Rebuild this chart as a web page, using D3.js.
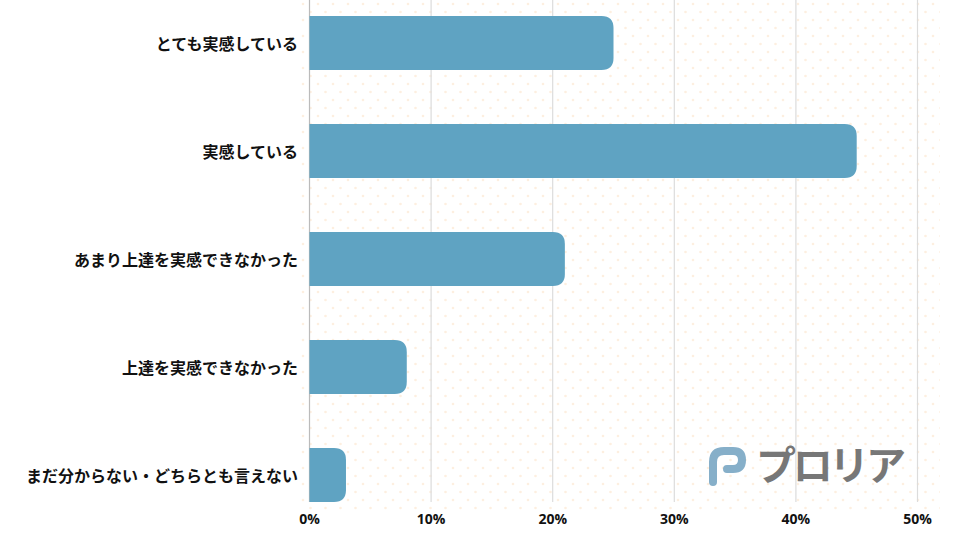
<!DOCTYPE html>
<html><head><meta charset="utf-8">
<script src="https://cdn.jsdelivr.net/npm/d3@7"></script>
<style>body{margin:0;background:#fff}svg{display:block}</style>
</head><body>
<svg id="c" width="960" height="540"></svg>
<script>
const categories = ["とても実感している","実感している","あまり上達を実感できなかった","上達を実感できなかった","まだ分からない・どちらとも言えない"];
const values = [25, 45, 21, 8, 3];
const ticks = [0, 10, 20, 30, 40, 50];

const svg = d3.select("#c");
const font = "'Noto Sans CJK JP','Noto Sans',sans-serif";
const x = d3.scaleLinear().domain([0, 50]).range([309.5, 917.5]);
const y = d3.scaleBand().domain(categories).range([-11, 529]).paddingInner(0.5).paddingOuter(0.25);
const gridBottom = 502;

// dotted background pattern
const defs = svg.append("defs");
const pat = defs.append("pattern").attr("id","dots").attr("patternUnits","userSpaceOnUse")
  .attr("width",15).attr("height",16);
pat.append("circle").attr("cx",3).attr("cy",4).attr("r",1.3).attr("fill","#fdefe0");
pat.append("circle").attr("cx",10.5).attr("cy",12).attr("r",1.3).attr("fill","#fdefe0");
svg.append("rect").attr("x",300).attr("y",0).attr("width",640).attr("height",510).attr("fill","url(#dots)");

// grid
svg.append("g").selectAll("line").data(ticks).join("line")
  .attr("x1", d => x(d)).attr("x2", d => x(d)).attr("y1", 0).attr("y2", gridBottom)
  .attr("stroke", d => d === 0 ? "#bbb" : "#dcdcdc").attr("stroke-width", 1.2);

// bars with rounded right end
const r = 12;
svg.append("g").selectAll("path").data(values).join("path")
  .attr("fill", "#5fa3c2")
  .attr("d", (v, i) => {
    const x0 = x(0), x1 = x(v), y0 = y(categories[i]), h = y.bandwidth();
    const rr = Math.min(r, (x1 - x0), h / 2);
    return `M${x0},${y0}H${x1 - rr}Q${x1},${y0} ${x1},${y0 + rr}V${y0 + h - rr}Q${x1},${y0 + h} ${x1 - rr},${y0 + h}H${x0}Z`;
  });

// category labels
svg.append("g").selectAll("text").data(categories).join("text")
  .attr("x", 298).attr("y", d => y(d) + y.bandwidth() / 2)
  .attr("text-anchor", "end").attr("dominant-baseline", "central")
  .attr("font-family", font).attr("font-weight", "bold").attr("font-size", 16).attr("fill", "#111")
  .text(d => d);

// tick labels
svg.append("g").selectAll("text").data(ticks).join("text")
  .attr("x", d => x(d)).attr("y", 524).attr("text-anchor", "middle")
  .attr("font-family", "'Open Sans','Noto Sans',sans-serif").attr("font-weight", "bold").attr("font-size", 14).attr("fill", "#111")
  .text(d => d + "%");

// logo
const logo = svg.append("g");
logo.append("path")
  .attr("d", "M713,482 V462 Q713,451 724,451 H733 Q742,451 742,460 Q742,469 733,469 H727")
  .attr("fill", "none").attr("stroke", "#86afc9").attr("stroke-width", 8).attr("stroke-linecap", "round").attr("stroke-linejoin", "round");
logo.append("text").attr("x", 756).attr("y", 480)
  .attr("font-family", font).attr("font-weight", "bold").attr("font-size", 40).attr("fill", "#777")
  .attr("textLength", 150).text("プロリア");
</script>
</body></html>
